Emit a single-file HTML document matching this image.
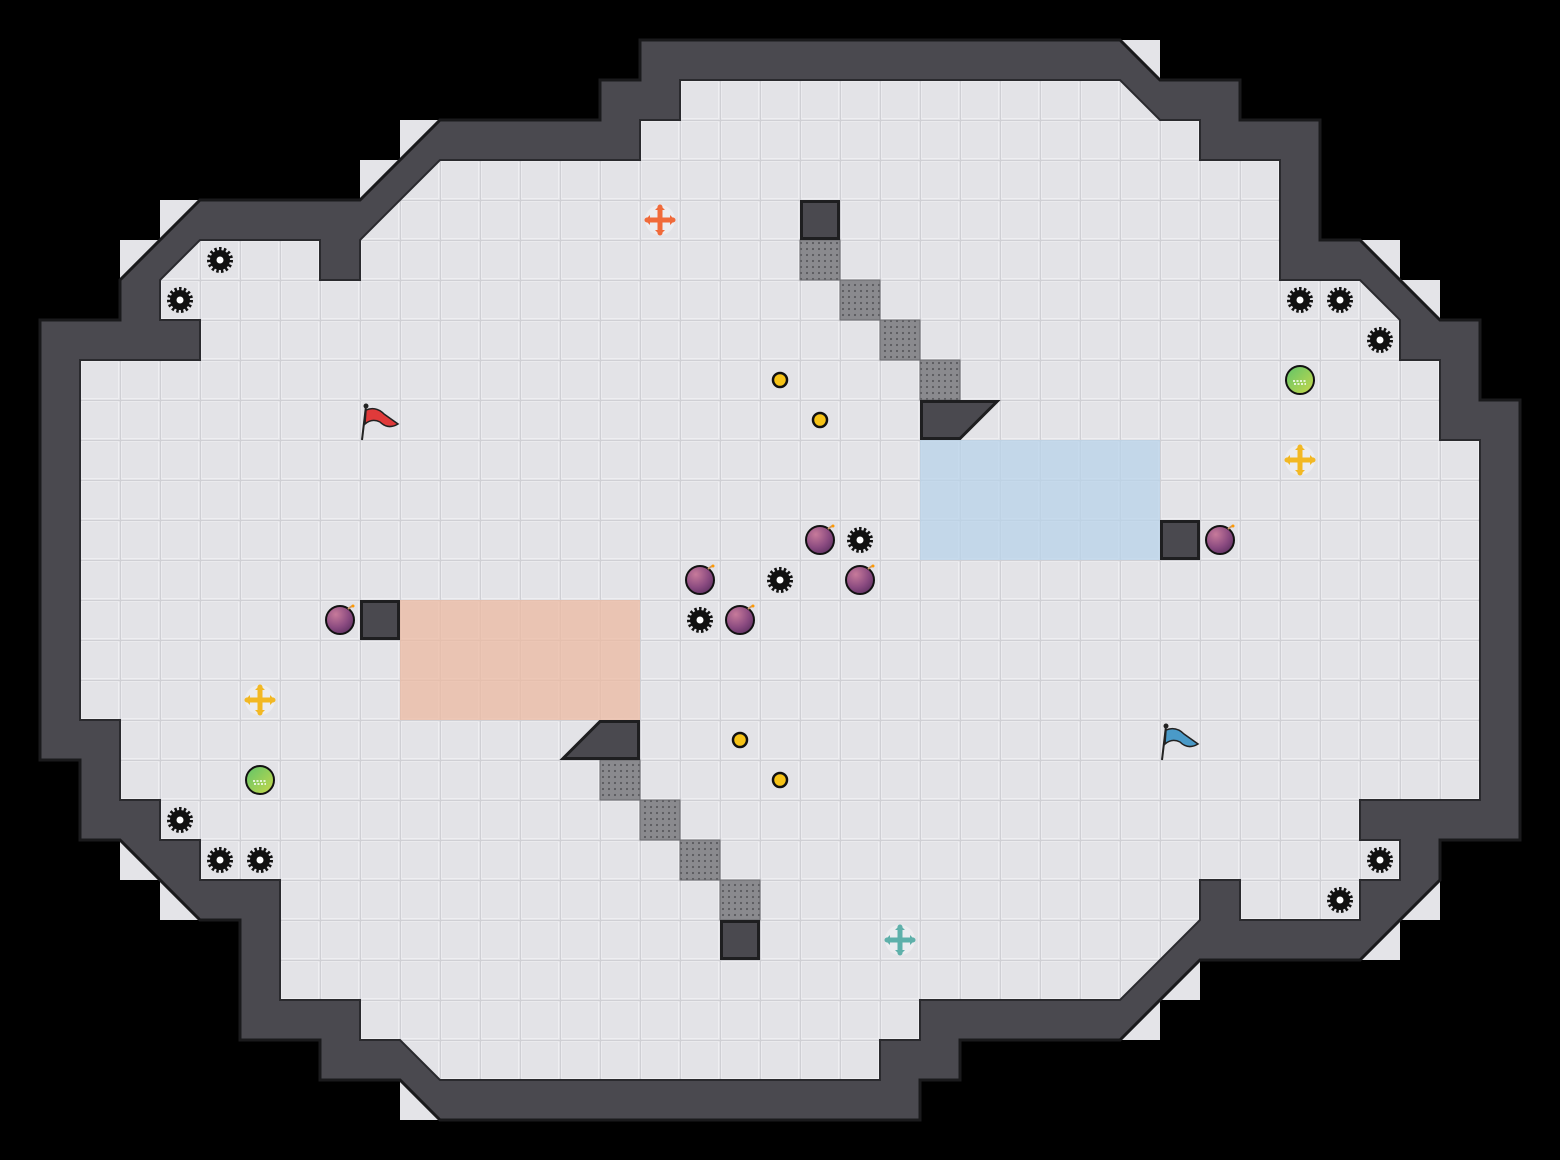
<!DOCTYPE html>
<html><head><meta charset="utf-8"><style>html,body{margin:0;padding:0;background:#000}svg{display:block}</style></head>
<body>
<svg width="1560" height="1160" viewBox="0 0 1560 1160" xmlns="http://www.w3.org/2000/svg">
<defs>
<pattern id="g" x="0" y="0" width="40" height="40" patternUnits="userSpaceOnUse">
<rect width="40" height="40" fill="#e3e3e7"/>
<rect x="1.5" y="1.5" width="37" height="37" fill="none" stroke="#eeeef1" stroke-width="1"/>
<path d="M0 0.5H40M0.5 0V40" stroke="#cfcfd4" stroke-width="1.2"/>
</pattern>
<pattern id="dots" x="0" y="0" width="6" height="6" patternUnits="userSpaceOnUse">
<rect width="6" height="6" fill="#8a8a8e"/><circle cx="3" cy="3" r="1.1" fill="#5a5a5e"/>
</pattern>
<radialGradient id="bomb" cx="0.35" cy="0.3" r="0.8"><stop offset="0" stop-color="#c77a9a"/><stop offset="0.6" stop-color="#8a4a80"/><stop offset="1" stop-color="#5c3060"/></radialGradient>
<linearGradient id="green" x1="0" y1="0" x2="1" y2="1"><stop offset="0" stop-color="#5fc46a"/><stop offset="1" stop-color="#c8d84a"/></linearGradient>
<g id="gear"><circle r="11" fill="none" stroke="#111" stroke-width="4" stroke-dasharray="2.4 2.2"/><circle r="10" fill="#111"/><circle r="3.5" fill="#fff"/></g>
<g id="bomb1"><circle r="14" fill="url(#bomb)" stroke="#111" stroke-width="2"/><path d="M8 -11 L12 -14" stroke="#c96" stroke-width="2"/><circle cx="13" cy="-14" r="1.5" fill="#f90"/></g>
<g id="dot"><circle r="7" fill="#f6c317" stroke="#111" stroke-width="2.5"/></g>
<g id="ball"><circle r="14" fill="url(#green)" stroke="#111" stroke-width="2"/><path d="M-7 1 L7 1 M-6 4 L6 4" stroke="#fff" stroke-width="1.5" stroke-dasharray="2 1.5"/></g>
</defs>
<rect width="1560" height="1160" fill="#000"/>
<g fill="#e4e4e8">
<rect x="1120" y="40" width="40" height="40"/><rect x="360" y="160" width="40" height="40"/><rect x="400" y="120" width="40" height="40"/>
<rect x="160" y="200" width="40" height="40"/><rect x="120" y="240" width="40" height="40"/><rect x="1360" y="240" width="40" height="40"/>
<rect x="1400" y="280" width="40" height="40"/><rect x="1400" y="880" width="40" height="40"/><rect x="1360" y="920" width="40" height="40"/>
<rect x="1160" y="960" width="40" height="40"/><rect x="1120" y="1000" width="40" height="40"/><rect x="400" y="1080" width="40" height="40"/>
<rect x="160" y="880" width="40" height="40"/><rect x="120" y="840" width="40" height="40"/>
</g>
<polygon fill="#4a494f" stroke="#1a1a1c" stroke-width="3" points="640,40 1120,40 1160,80 1240,80 1240,120 1320,120 1320,240 1360,240 1440,320 1480,320 1480,400 1520,400 1520,840 1440,840 1440,880 1360,960 1200,960 1120,1040 960,1040 960,1080 920,1080 920,1120 440,1120 400,1080 320,1080 320,1040 240,1040 240,920 200,920 120,840 80,840 80,760 40,760 40,320 120,320 120,280 200,200 360,200 440,120 600,120 600,80 640,80"/>
<polygon fill="url(#g)" stroke="#2a2a2e" stroke-width="2" points="680,80 1120,80 1160,120 1200,120 1200,160 1280,160 1280,280 1360,280 1400,320 1400,360 1440,360 1440,440 1480,440 1480,800 1360,800 1360,840 1400,840 1400,880 1360,880 1360,920 1240,920 1240,880 1200,880 1200,920 1120,1000 920,1000 920,1040 880,1040 880,1080 440,1080 400,1040 360,1040 360,1000 280,1000 280,880 200,880 200,840 160,840 160,800 120,800 120,720 80,720 80,360 200,360 200,320 160,320 160,280 200,240 320,240 320,280 360,280 360,240 440,160 640,160 640,120 680,120"/>
<rect x="920" y="440" width="240" height="120" fill="#b8d3ea" opacity="0.75"/>
<rect x="400" y="600" width="240" height="120" fill="#ecb9a2" opacity="0.75"/>
<g stroke="#6a6a6e" stroke-width="1">
<rect x="800" y="240" width="40" height="40" fill="url(#dots)"/><rect x="840" y="280" width="40" height="40" fill="url(#dots)"/>
<rect x="880" y="320" width="40" height="40" fill="url(#dots)"/><rect x="920" y="360" width="40" height="40" fill="url(#dots)"/>
<rect x="600" y="760" width="40" height="40" fill="url(#dots)"/><rect x="640" y="800" width="40" height="40" fill="url(#dots)"/>
<rect x="680" y="840" width="40" height="40" fill="url(#dots)"/><rect x="720" y="880" width="40" height="40" fill="url(#dots)"/>
</g>
<g fill="#4a494f" stroke="#1e1e20" stroke-width="3">
<rect x="801.5" y="201.5" width="37" height="37"/><rect x="361.5" y="601.5" width="37" height="37"/>
<rect x="1161.5" y="521.5" width="37" height="37"/><rect x="721.5" y="921.5" width="37" height="37"/>
<polygon points="921.5,401.5 997,401.5 960,438.5 921.5,438.5"/>
<polygon points="638.5,721.5 638.5,758.5 563,758.5 600,721.5"/>
</g>
<use href="#gear" x="220" y="260"/><use href="#gear" x="180" y="300"/><use href="#gear" x="1300" y="300"/><use href="#gear" x="1340" y="300"/>
<use href="#gear" x="1380" y="340"/><use href="#gear" x="860" y="540"/><use href="#gear" x="780" y="580"/><use href="#gear" x="700" y="620"/>
<use href="#gear" x="180" y="820"/><use href="#gear" x="220" y="860"/><use href="#gear" x="260" y="860"/><use href="#gear" x="1380" y="860"/><use href="#gear" x="1340" y="900"/>
<use href="#bomb1" x="820" y="540"/><use href="#bomb1" x="1220" y="540"/><use href="#bomb1" x="700" y="580"/>
<use href="#bomb1" x="860" y="580"/><use href="#bomb1" x="340" y="620"/><use href="#bomb1" x="740" y="620"/>
<use href="#dot" x="780" y="380"/><use href="#dot" x="820" y="420"/><use href="#dot" x="740" y="740"/><use href="#dot" x="780" y="780"/>
<use href="#ball" x="1300" y="380"/><use href="#ball" x="260" y="780"/>
<g stroke-linecap="round">
<g transform="translate(660,220)"><circle r="15" fill="#ececef"/><path d="M-13 0H13M0 -13V13" stroke="#f06a3a" stroke-width="5"/><path d="M-15 0l5-5v10zM15 0l-5-5v10zM0 -15l-5 5h10zM0 15l-5-5h10z" fill="#f06a3a"/></g>
<g transform="translate(1300,460)"><circle r="15" fill="#ececef"/><path d="M-13 0H13M0 -13V13" stroke="#f2b824" stroke-width="5"/><path d="M-15 0l5-5v10zM15 0l-5-5v10zM0 -15l-5 5h10zM0 15l-5-5h10z" fill="#f2b824"/></g>
<g transform="translate(260,700)"><circle r="15" fill="#ececef"/><path d="M-13 0H13M0 -13V13" stroke="#f2b824" stroke-width="5"/><path d="M-15 0l5-5v10zM15 0l-5-5v10zM0 -15l-5 5h10zM0 15l-5-5h10z" fill="#f2b824"/></g>
<g transform="translate(900,940)"><circle r="15" fill="#ececef"/><path d="M-13 0H13M0 -13V13" stroke="#5fb0aa" stroke-width="5"/><path d="M-15 0l5-5v10zM15 0l-5-5v10zM0 -15l-5 5h10zM0 15l-5-5h10z" fill="#5fb0aa"/></g>
</g>
<g transform="translate(362,404)"><path d="M4 2 L0 36" stroke="#222" stroke-width="2"/><circle cx="4" cy="2" r="2.5" fill="#222"/><path d="M4 6 Q14 2 22 10 L36 20 Q26 26 18 18 Q10 14 3 20Z" fill="#e03a3a" stroke="#222" stroke-width="1.5"/></g>
<g transform="translate(1162,724)"><path d="M4 2 L0 36" stroke="#222" stroke-width="2"/><circle cx="4" cy="2" r="2.5" fill="#222"/><path d="M4 6 Q14 2 22 10 L36 20 Q26 26 18 18 Q10 14 3 20Z" fill="#4a9ac8" stroke="#222" stroke-width="1.5"/></g>
</svg>
</body></html>
